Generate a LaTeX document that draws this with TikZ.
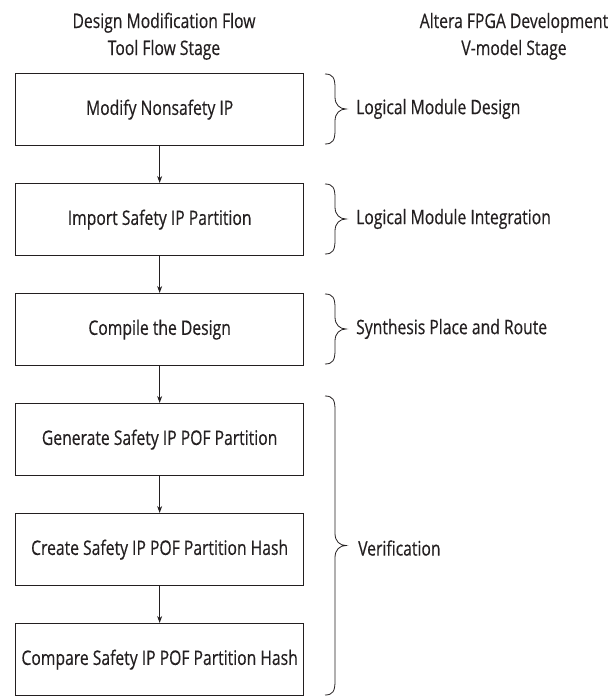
\documentclass[tikz,border=0pt]{standalone}
\usepackage{fontspec}
\setmainfont[FakeStretch=0.785,FakeBold=0.4]{Open Sans}
\usetikzlibrary{arrows.meta}
\definecolor{ink}{HTML}{231F20}
\newcommand{\rcurly}[3]{% x, top, bottom
  \draw[curlyline] (#1,#2) .. controls (#1+8,#2) and (#1+10,#2+4) .. (#1+10,#2+14)
    -- (#1+10,{(#2+#3)/2-12}) .. controls (#1+10,{(#2+#3)/2-4}) and (#1+15,{(#2+#3)/2}) .. (#1+21,{(#2+#3)/2})
    .. controls (#1+15,{(#2+#3)/2}) and (#1+10,{(#2+#3)/2+4}) .. (#1+10,{(#2+#3)/2+12})
    -- (#1+10,#3-14) .. controls (#1+10,#3-4) and (#1+8,#3) .. (#1,#3);}
\begin{document}
\begin{tikzpicture}[x=1pt,y=-1pt,
  every node/.style={font=\fontsize{20}{24}\selectfont, text=ink},
  stagebox/.style={draw=ink, line width=1.3pt, minimum width=288pt, minimum height=72pt, inner sep=0pt, anchor=north west},
  flowarrow/.style={draw=ink, line width=0.9pt, -{Stealth[length=7pt,width=5pt]}},
  curlyline/.style={draw=ink, line width=0.8pt},
  lbl/.style={anchor=west, inner sep=0pt},
  hdr/.style={anchor=base, inner sep=0pt}]
\useasboundingbox (0,0) rectangle (609,696);
% headers
\node[hdr] (h1a) at (164,28) {Design Modification Flow};
\node[hdr] (h1b) at (164,55) {Tool Flow Stage};
\node[hdr] (h2a) at (514,28) {Altera FPGA Development};
\node[hdr] (h2b) at (514,55) {V-model Stage};
% boxes
\node[stagebox] (b1) at (15,73) {Modify Nonsafety IP};
\node[stagebox] (b2) at (15,183) {Import Safety IP Partition};
\node[stagebox] (b3) at (15,293) {Compile the Design};
\node[stagebox] (b4) at (15,403) {Generate Safety IP POF Partition};
\node[stagebox] (b5) at (15,513) {Create Safety IP POF Partition Hash};
\node[stagebox] (b6) at (15,623) {Compare Safety IP POF Partition Hash};
% arrows
\draw[flowarrow] (b1.south) -- (b2.north);
\draw[flowarrow] (b2.south) -- (b3.north);
\draw[flowarrow] (b3.south) -- (b4.north);
\draw[flowarrow] (b4.south) -- (b5.north);
\draw[flowarrow] (b5.south) -- (b6.north);
% braces
\rcurly{325}{74}{144}
\rcurly{325}{184}{254}
\rcurly{325}{294}{364}
\rcurly{325}{396}{695}
% labels
\node[lbl] (l1) at (356,109) {Logical Module Design};
\node[lbl] (l2) at (356,219) {Logical Module Integration};
\node[lbl] (l3) at (356,329) {Synthesis Place and Route};
\node[lbl] (l4) at (358,548) {Verification};
\end{tikzpicture}
\end{document}
